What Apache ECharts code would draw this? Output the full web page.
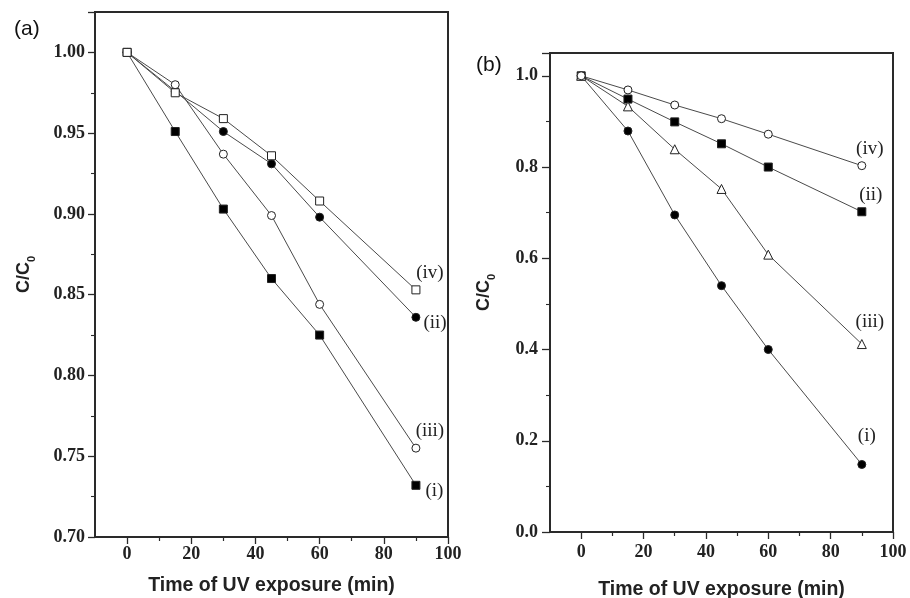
<!DOCTYPE html>
<html>
<head>
<meta charset="utf-8">
<script src="https://cdn.jsdelivr.net/npm/echarts@6/dist/echarts.min.js"></script>
<style>html,body{margin:0;padding:0;background:#fff}#c{width:910px;height:598px}</style>
</head>
<body>
<div id="c"></div>
<script>
var times = [0, 15, 30, 45, 60, 90];
// Panel (a)
var a_i   = [1.000, 0.951, 0.903, 0.860, 0.825, 0.732];
var a_ii  = [1.000, 0.976, 0.951, 0.931, 0.898, 0.836];
var a_iii = [1.000, 0.980, 0.937, 0.899, 0.844, 0.755];
var a_iv  = [1.000, 0.975, 0.959, 0.936, 0.908, 0.853];
// Panel (b)
var b_i   = [1.000, 0.879, 0.695, 0.540, 0.400, 0.148];
var b_ii  = [1.000, 0.949, 0.899, 0.851, 0.800, 0.702];
var b_iii = [1.000, 0.933, 0.839, 0.752, 0.608, 0.412];
var b_iv  = [1.000, 0.969, 0.936, 0.906, 0.872, 0.803];
var curveNames = ['(i)', '(ii)', '(iii)', '(iv)'];
var xMajorTicks = [0, 20, 40, 60, 80, 100];
var xMinorTicks = [10, 30, 50, 70, 90];

var lineColor = '#4a4a4a';
var axisColor = '#2a2a2a';

function pts(vals, labelText, labelOpt) {
  return vals.map(function (v, k) {
    var item = { value: [times[k], v] };
    if (k === vals.length - 1) {
      item.label = Object.assign({
        show: true, formatter: labelText,
        fontFamily: 'Liberation Serif', fontSize: 19, color: '#222'
      }, labelOpt);
    }
    return item;
  });
}

function ser(idx, vals, symbol, filled, labelText, labelOpt) {
  return {
    type: 'line', xAxisIndex: idx, yAxisIndex: idx,
    data: pts(vals, labelText, labelOpt),
    symbol: symbol, symbolSize: symbol === 'triangle' ? 9 : 8,
    showAllSymbol: true,
    lineStyle: { color: lineColor, width: 1 },
    itemStyle: { color: filled ? '#000' : '#fff', borderColor: '#222', borderWidth: 1 },
    emphasis: { disabled: true },
    animation: false, z: 3
  };
}

function xAx(idx, labelMargin, nameGap) {
  return {
    type: 'value', gridIndex: idx, min: -10, max: 100, position: 'bottom',
    axisLine: { show: true, onZero: false, lineStyle: { color: axisColor, width: 2 } },
    axisTick: { show: true, length: 7, customValues: xMajorTicks, lineStyle: { color: axisColor, width: 1.3 } },
    splitLine: { show: false },
    axisLabel: {
      fontFamily: 'Liberation Serif', fontWeight: 'bold', fontSize: 18, color: '#222', margin: labelMargin,
      customValues: xMajorTicks, showMinLabel: true, showMaxLabel: true
    },
    name: 'Time of UV exposure (min)', nameLocation: 'middle', nameGap: nameGap,
    nameTextStyle: { fontFamily: 'Liberation Sans', fontWeight: 'bold', fontSize: 19.5, color: '#222' }
  };
}

function xMinor(idx) {
  return {
    type: 'value', gridIndex: idx, min: -10, max: 100, position: 'bottom',
    axisLine: { show: false, onZero: false },
    axisTick: { show: true, length: 4, customValues: xMinorTicks, lineStyle: { color: axisColor, width: 1.2 } },
    axisLabel: { show: false },
    splitLine: { show: false }
  };
}

function yAx(idx, min, max, interval, dec, gap, tickLen, labelMargin) {
  return {
    type: 'value', gridIndex: idx, min: min, max: max, interval: interval,
    axisLine: { show: true, onZero: false, lineStyle: { color: axisColor, width: 2 } },
    axisTick: { show: true, length: tickLen, lineStyle: { color: axisColor, width: 1.3 } },
    minorTick: { show: true, splitNumber: 2, length: 4, lineStyle: { color: axisColor, width: 1.1 } },
    splitLine: { show: false },
    axisLabel: {
      fontFamily: 'Liberation Serif', fontWeight: 'bold', fontSize: 18, color: '#222', margin: labelMargin,
      showMaxLabel: false,
      formatter: function (v) { return v.toFixed(dec); }
    },
    name: '{a|C/C}{b|0}', nameLocation: 'middle', nameGap: gap,
    nameTextStyle: {
      rich: {
        a: { fontFamily: 'Liberation Sans', fontWeight: 'bold', fontSize: 18, color: '#222', lineHeight: 20, verticalAlign: 'bottom' },
        b: { fontFamily: 'Liberation Sans', fontWeight: 'bold', fontSize: 11, color: '#222', lineHeight: 20, verticalAlign: 'bottom', padding: [0, 0, -4, 0] }
      }
    }
  };
}

var chart = echarts.init(document.getElementById('c'), null, { renderer: 'canvas' });
chart.setOption({
  backgroundColor: '#fff',
  animation: false,
  title: [
    { text: '(a)', left: 9, top: 14, textStyle: { fontFamily: 'Liberation Sans', fontWeight: 'normal', fontSize: 21, color: '#111' } },
    { text: '(b)', left: 471, top: 50, textStyle: { fontFamily: 'Liberation Sans', fontWeight: 'normal', fontSize: 21, color: '#111' } }
  ],
  grid: [
    { left: 95, right: 462, top: 12, bottom: 61, containLabel: false, outerBoundsMode: 'none', show: true, borderColor: axisColor, borderWidth: 2, backgroundColor: 'transparent' },
    { left: 550, right: 17, top: 53, bottom: 66, containLabel: false, outerBoundsMode: 'none', show: true, borderColor: axisColor, borderWidth: 2, backgroundColor: 'transparent' }
  ],
  xAxis: [xAx(0, 8, 39), xAx(1, 11, 48), xMinor(0), xMinor(1)],
  yAxis: [yAx(0, 0.70, 1.025, 0.05, 2, 62, 7, 10), yAx(1, 0, 1.05, 0.2, 1, 57, 8, 12)],
  series: [
    ser(0, a_i, 'rect', true, curveNames[0], { position: 'right', distance: 5, offset: [0, 6] }),
    ser(0, a_ii, 'circle', true, curveNames[1], { position: 'right', distance: 3, offset: [0, 6] }),
    ser(0, a_iii, 'circle', false, curveNames[2], { position: 'top', distance: 3, offset: [14, 0] }),
    ser(0, a_iv, 'rect', false, curveNames[3], { position: 'top', distance: 3, offset: [14, 0] }),
    ser(1, b_i, 'circle', true, curveNames[0], { position: 'top', distance: 14, offset: [5, 0] }),
    ser(1, b_ii, 'rect', true, curveNames[1], { position: 'top', distance: 3, offset: [9, 0] }),
    ser(1, b_iii, 'triangle', false, curveNames[2], { position: 'top', distance: 8, offset: [8, 0] }),
    ser(1, b_iv, 'circle', false, curveNames[3], { position: 'top', distance: 3, offset: [8, 0] })
  ]
});
</script>
</body>
</html>
